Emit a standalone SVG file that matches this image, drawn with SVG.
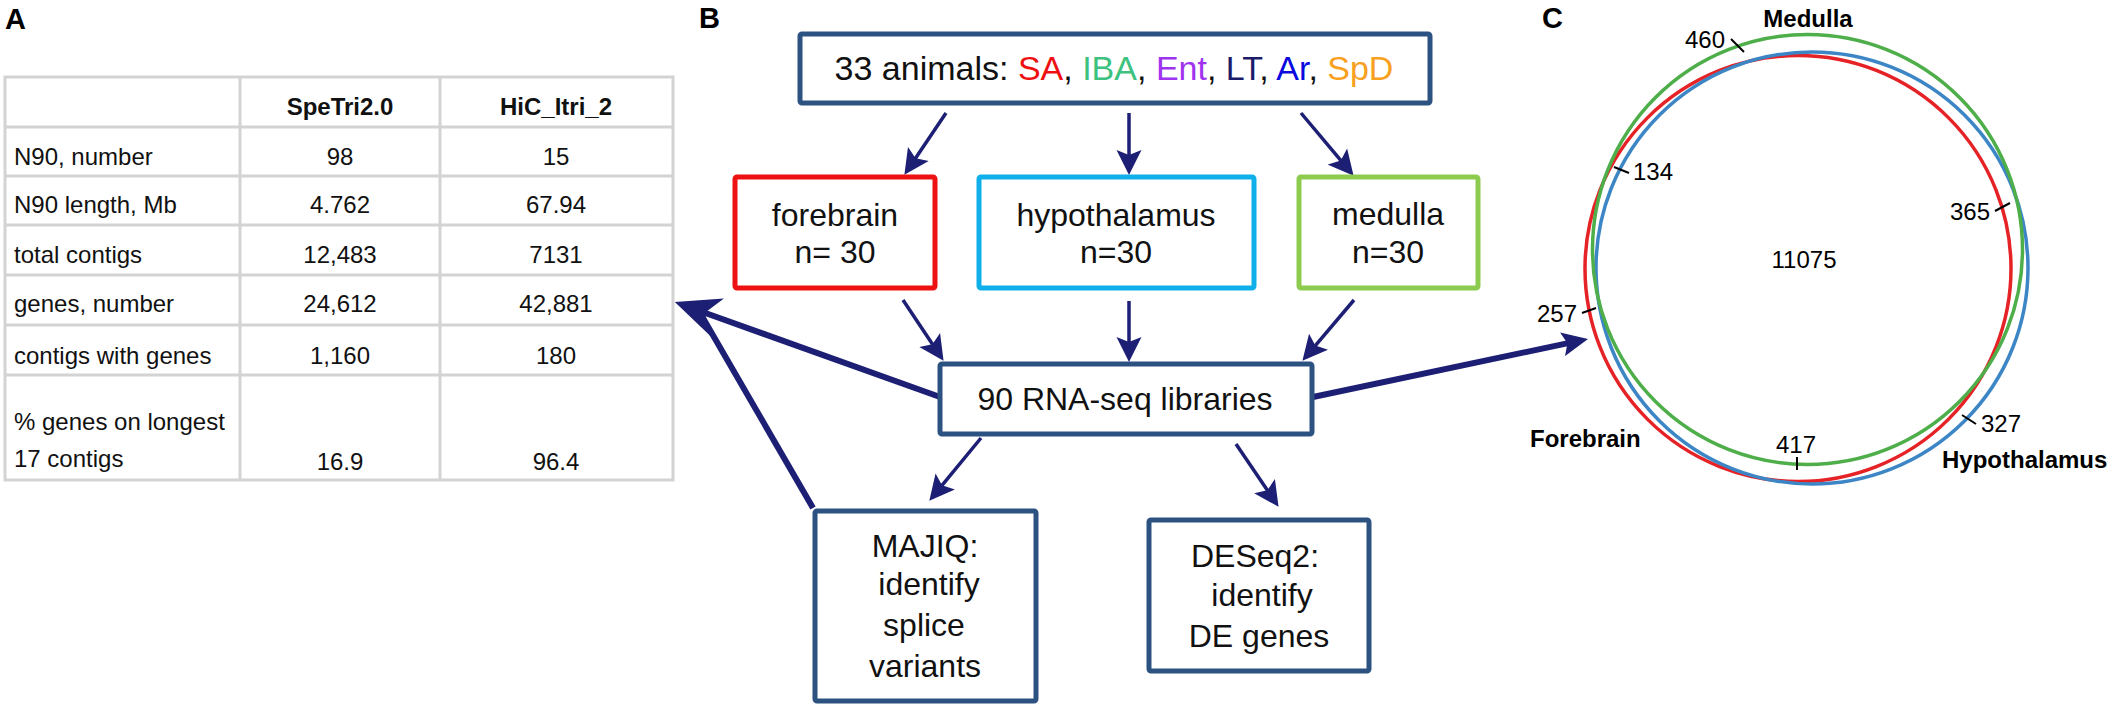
<svg xmlns="http://www.w3.org/2000/svg" width="2118" height="707" viewBox="0 0 2118 707">
<style>
.tbl{font-family:"Liberation Sans",Arial,sans-serif;font-size:24px;fill:#111}
.tb{font-weight:bold}
.c{text-anchor:middle}
.grid{stroke:#d3d3d3;stroke-width:3;fill:none}
.lbl{font-family:"Liberation Sans",Arial,sans-serif;font-weight:bold;font-size:29px;fill:#000}
.bx{fill:#fff;stroke:#2c5282;stroke-width:5}
.bt{font-family:"Liberation Sans",Arial,sans-serif;font-size:32px;fill:#111;text-anchor:middle}
.thin{stroke:#1c1f73;stroke-width:3.5;fill:none;marker-end:url(#hs)}
.thick{stroke:#1c1f73;stroke-width:6;fill:none}
.vn{font-family:"Liberation Sans",Arial,sans-serif;font-size:24px;fill:#000}
.vb{font-family:"Liberation Sans",Arial,sans-serif;font-size:24px;font-weight:bold;fill:#000}
.tick{stroke:#000;stroke-width:2}
</style>
<defs>
<marker id="hs" markerUnits="userSpaceOnUse" markerWidth="26" markerHeight="26" refX="6" refY="12.5" orient="auto" viewBox="0 0 26 25">
<path d="M0,0 L25,12.5 L0,25 L5,12.5 z" fill="#1c1f73"/>
</marker>
<marker id="hb" markerUnits="userSpaceOnUse" markerWidth="46" markerHeight="40" refX="14" refY="20" orient="auto" viewBox="0 0 46 40">
<path d="M0,0 L45,20 L0,40 L13,20 z" fill="#1c1f73"/>
</marker>
<marker id="hm" markerUnits="userSpaceOnUse" markerWidth="27" markerHeight="25" refX="7" refY="12" orient="auto" viewBox="0 0 27 24">
<path d="M0,0 L26,12 L0,24 L5,12 z" fill="#1c1f73"/>
</marker>
</defs>
<rect width="2118" height="707" fill="#fff"/>

<!-- Panel A -->
<g id="panelA">
<text class="lbl" x="5" y="29">A</text>
<g id="table">
<rect class="grid" x="5" y="77" width="668" height="403"/>
<line class="grid" x1="240" y1="77" x2="240" y2="480"/>
<line class="grid" x1="440" y1="77" x2="440" y2="480"/>
<line class="grid" x1="5" y1="127" x2="673" y2="127"/>
<line class="grid" x1="5" y1="176" x2="673" y2="176"/>
<line class="grid" x1="5" y1="225" x2="673" y2="225"/>
<line class="grid" x1="5" y1="275" x2="673" y2="275"/>
<line class="grid" x1="5" y1="325" x2="673" y2="325"/>
<line class="grid" x1="5" y1="375" x2="673" y2="375"/>
<text class="tbl tb c" x="340" y="115">SpeTri2.0</text>
<text class="tbl tb c" x="556" y="115">HiC_Itri_2</text>
<text class="tbl" x="14" y="165">N90, number</text>
<text class="tbl c" x="340" y="165">98</text>
<text class="tbl c" x="556" y="165">15</text>
<text class="tbl" x="14" y="213">N90 length, Mb</text>
<text class="tbl c" x="340" y="213">4.762</text>
<text class="tbl c" x="556" y="213">67.94</text>
<text class="tbl" x="14" y="263">total contigs</text>
<text class="tbl c" x="340" y="263">12,483</text>
<text class="tbl c" x="556" y="263">7131</text>
<text class="tbl" x="14" y="312">genes, number</text>
<text class="tbl c" x="340" y="312">24,612</text>
<text class="tbl c" x="556" y="312">42,881</text>
<text class="tbl" x="14" y="364">contigs with genes</text>
<text class="tbl c" x="340" y="364">1,160</text>
<text class="tbl c" x="556" y="364">180</text>
<text class="tbl" x="14" y="430">% genes on longest</text>
<text class="tbl" x="14" y="467">17 contigs</text>
<text class="tbl c" x="340" y="470">16.9</text>
<text class="tbl c" x="556" y="470">96.4</text>
</g>
</g>

<!-- Panel B -->
<text class="lbl" x="699" y="28">B</text>
<g id="connectors">
<line class="thin" x1="946" y1="113" x2="915" y2="159"/>
<line class="thin" x1="1129" y1="113" x2="1129" y2="156"/>
<line class="thin" x1="1301" y1="113" x2="1341.4" y2="161.2"/>
<line class="thin" x1="903" y1="300" x2="933" y2="345"/>
<line class="thin" x1="1129" y1="301" x2="1129" y2="343"/>
<line class="thin" x1="1354" y1="300" x2="1314.7" y2="346.3"/>
<line class="thin" x1="981" y1="438" x2="941.4" y2="486.1"/>
<line class="thin" x1="1236" y1="444" x2="1267.9" y2="491.1"/>
<line class="thick" x1="813" y1="508" x2="703" y2="318"/>
<line class="thick" x1="940" y1="397" x2="704" y2="312.5" marker-end="url(#hb)"/>
<line class="thick" x1="1313" y1="397" x2="1569.4" y2="342.9" marker-end="url(#hm)"/>
</g>
<g id="animals">
<rect class="bx" x="800" y="34" width="630" height="69" rx="2"/>
<text font-family="Liberation Sans, Arial, sans-serif" font-size="34" text-anchor="middle" x="1114" y="80" fill="#111">33 animals: <tspan fill="#ee1111">SA</tspan>, <tspan fill="#3cc27e">IBA</tspan>, <tspan fill="#a033f0">Ent</tspan>, <tspan fill="#1c1c6a">LT</tspan>, <tspan fill="#0a0ae0">Ar</tspan>, <tspan fill="#f8a020">SpD</tspan></text>
</g>
<g id="forebrain">
<rect x="735" y="177" width="200" height="111" rx="2" fill="#fff" stroke="#ee1111" stroke-width="5"/>
<text class="bt" x="835" y="226">forebrain</text>
<text class="bt" x="835" y="263">n= 30</text>
</g>
<g id="hypothalamus">
<rect x="979" y="177" width="275" height="111" rx="2" fill="#fff" stroke="#0fb0ea" stroke-width="5"/>
<text class="bt" x="1116" y="226">hypothalamus</text>
<text class="bt" x="1116" y="263">n=30</text>
</g>
<g id="medulla">
<rect x="1299" y="177" width="179" height="111" rx="2" fill="#fff" stroke="#8dcb4f" stroke-width="5"/>
<text class="bt" x="1388" y="225">medulla</text>
<text class="bt" x="1388" y="263">n=30</text>
</g>
<g id="rnaseq">
<rect class="bx" x="940" y="364" width="372" height="70" rx="2"/>
<text class="bt" x="1125" y="410" font-size="33">90 RNA-seq libraries</text>
</g>
<g id="majiq">
<rect class="bx" x="815" y="511" width="221" height="190" rx="2"/>
<text class="bt" x="925" y="557">MAJIQ:</text>
<text class="bt" x="929" y="595">identify</text>
<text class="bt" x="924" y="636">splice</text>
<text class="bt" x="925" y="677">variants</text>
</g>
<g id="deseq2">
<rect class="bx" x="1149" y="520" width="220" height="151" rx="2"/>
<text class="bt" x="1255" y="567">DESeq2:</text>
<text class="bt" x="1262" y="606">identify</text>
<text class="bt" x="1259" y="647">DE genes</text>
</g>

<!-- Panel C -->
<g id="venn">
<text class="lbl" x="1542" y="28">C</text>
<circle cx="1798" cy="268.5" r="213" fill="none" stroke="#e52226" stroke-width="3.5"/>
<circle cx="1812" cy="268" r="216" fill="none" stroke="#3d86c6" stroke-width="3.5"/>
<circle cx="1807.5" cy="249.5" r="215" fill="none" stroke="#4eae4a" stroke-width="3.5"/>
<text class="vb" x="1808" y="27" text-anchor="middle">Medulla</text>
<text class="vb" x="1530" y="447">Forebrain</text>
<text class="vb" x="1942" y="468">Hypothalamus</text>
<text class="vn" x="1804" y="268" text-anchor="middle">11075</text>
<text class="vn" x="1685" y="48">460</text>
<line class="tick" x1="1731" y1="39" x2="1744" y2="52"/>
<text class="vn" x="1633" y="180">134</text>
<line class="tick" x1="1614" y1="167" x2="1629" y2="173"/>
<text class="vn" x="1950" y="220">365</text>
<line class="tick" x1="1995" y1="211" x2="2010" y2="203"/>
<text class="vn" x="1537" y="322">257</text>
<line class="tick" x1="1582" y1="313" x2="1596" y2="308"/>
<text class="vn" x="1776" y="453">417</text>
<line class="tick" x1="1797" y1="457" x2="1797" y2="470"/>
<text class="vn" x="1981" y="432">327</text>
<line class="tick" x1="1962" y1="415" x2="1976" y2="424"/>
</g>
</svg>
